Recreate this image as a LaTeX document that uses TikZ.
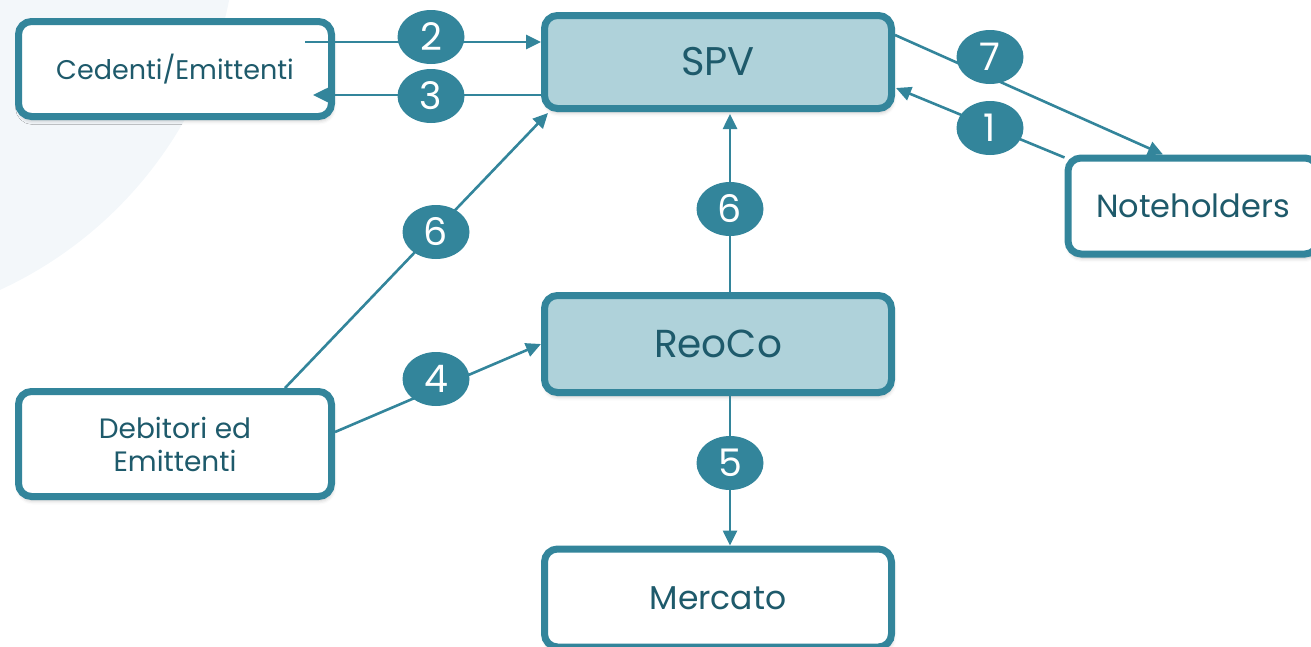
\documentclass[tikz,border=0pt]{standalone}
\usepackage{fontspec}
\setmainfont{Poppins}
\usetikzlibrary{calc, arrows.meta, shapes.geometric, shadows.blur}

\definecolor{petrol}{HTML}{33859B}
\definecolor{hellpetrol}{HTML}{AFD2DA}
\definecolor{schrift}{HTML}{1E5A6B}
\definecolor{hintergrund}{HTML}{F3F7FA}

\tikzset{
    kasten/.style={draw=petrol, line width=7pt, rounded corners=13pt, fill=white,
        text=schrift, align=center,
        blur shadow={shadow xshift=1pt, shadow yshift=-4pt, shadow blur radius=4pt, shadow opacity=25}},
    pfeil/.style={draw=petrol, line width=2.6pt, -{Triangle[length=15pt, width=14pt]}},
    marke/.style={ellipse, fill=petrol, text=white, inner sep=0pt,
        minimum width=67pt, minimum height=54pt, font=\fontsize{38}{38}\selectfont}
}

\begin{document}
\begin{tikzpicture}[x=1pt, y=-1pt]

\useasboundingbox (0,0) rectangle (1311,646);

% Hintergrundkreis oben links
\fill[hintergrund] (-170,-80) circle[radius=407];

% Kästen
\node[kasten, minimum width=313pt, minimum height=95pt, font=\fontsize{27}{27}\selectfont] (Ced) at (175,69) {Cedenti/Emittenti};
\node[kasten, fill=hellpetrol, minimum width=347pt, minimum height=93pt, font=\fontsize{40}{40}\selectfont] (SPV) at (718,62) {SPV};
\node[kasten, minimum width=250pt, minimum height=96pt, font=\fontsize{32}{32}\selectfont] (Note) at (1193,206) {Noteholders};
\node[kasten, fill=hellpetrol, minimum width=347pt, minimum height=97pt, font=\fontsize{39}{39}\selectfont] (ReoCo) at (718,344) {ReoCo};
\node[kasten, minimum width=313pt, minimum height=105pt, font=\fontsize{28}{33}\selectfont] (Deb) at (175,444) {Debitori ed\\Emittenti};
\node[kasten, minimum width=347pt, minimum height=98pt, font=\fontsize{33}{33}\selectfont] (Mer) at (718,598) {Mercato};

% Pfeile
\draw[pfeil] ($(Ced.east)+(-30,-27)$) -- ($(SPV.west)+(0,-20)$);
\draw[pfeil] ($(SPV.west)+(0,33)$) -- ($(Ced.east)+(-22,26)$);
\draw[pfeil] ($(Deb.north)+(110,0)$) -- ($(SPV.south west)+(7,1)$);
\draw[pfeil] ($(ReoCo.north)+(12,0)$) -- ($(SPV.south)+(12,2)$);
\draw[pfeil] ($(Deb.east)+(0,-12)$) -- (ReoCo.west);
\draw[pfeil] ($(ReoCo.south)+(12,0)$) -- ($(Mer.north)+(12,0)$);
\draw[pfeil] ($(SPV.north east)+(0,23)$) -- ($(Note.north)+(-30,0)$);
\draw[pfeil] ($(Note.north west)+(0,3)$) -- ($(SPV.east)+(1,26)$);

% Nummern
\node[marke] (m2) at (431,37) {2};
\node[marke] (m3) at (431,96) {3};
\node[marke] (m6a) at (436,232) {6};
\node[marke] (m6b) at (730,209) {6};
\node[marke] (m4) at (436,379) {4};
\node[marke] (m5) at (730,463) {5};
\node[marke] (m7) at (990,57) {7};
\node[marke] (m1) at (990,128) {1};

\end{tikzpicture}
\end{document}
